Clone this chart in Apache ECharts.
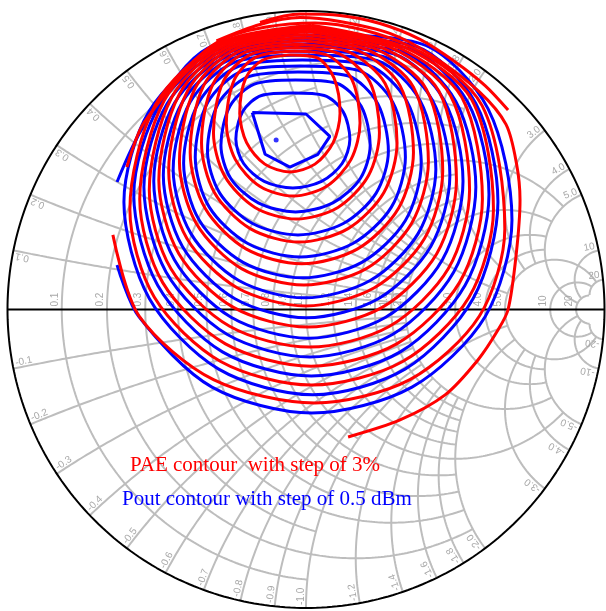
<!DOCTYPE html>
<html><head><meta charset="utf-8">
<script src="https://cdn.jsdelivr.net/npm/echarts@6/dist/echarts.min.js"></script>
<style>html,body{margin:0;padding:0;background:#fff}#chart{width:606px;height:611px}</style>
</head><body><div id="chart"></div>
<script>
// Smith chart grid: resistance circles, each drawn for |x| <= limit
const rFine = [0.1, 0.3, 0.5, 0.7, 0.9];               // |x| <= 1
const rMid = [0.2, 0.4, 0.6, 0.8, 1.2, 1.4, 1.6, 1.8]; // |x| <= 2
const rCoarse = [1.0, 2.0, 3.0, 4.0];                 // |x| <= 5
const rOuter = [5.0, 10, 20];                         // |x| <= 20
// reactance arcs, each drawn for r <= limit
const xFine = [0.1, 0.2, 0.3, 0.4, 0.5, 0.6, 0.7, 0.8, 0.9]; // r <= 2
const xMid = [1.2, 1.4, 1.6, 1.8];                    // r <= 2
const xCoarse = [1.0, 2.0, 3.0, 4.0];                 // r <= 5
const xOuter = [5.0, 10, 20];                         // r <= 20
// tick labels
const rLabels = ['0.1','0.2','0.3','0.4','0.5','0.6','0.7','0.8','0.9','1.0','1.2','1.4','1.6','1.8','2.0','3.0','4.0','5.0','10','20'];
const xLabels = ['0.1','0.2','0.3','0.4','0.5','0.6','0.7','0.8','0.9','1.0','1.2','1.4','1.6','1.8','2.0','3.0','4.0','5.0','10','20'];

// load-pull contours as reflection coefficient points [Re(G), Im(G)]
const poutOptimum = [-0.10, 0.568];
const poutContours = [
  [[-.18,.66],[0,.655],[.08,.58],[.04,.52],[-.054,.477],[-.137,.52],[-.18,.66]],
  [[-.044,.725],[.061,.717],[.124,.663],[.147,.57],[.121,.489],[.052,.429],[-.044,.407],[-.14,.429],[-.209,.489],[-.235,.57],[-.212,.663],[-.149,.717],[-.044,.725]],
  [[-.035,.769],[.103,.758],[.185,.681],[.215,.55],[.182,.439],[.09,.357],[-.035,.327],[-.16,.357],[-.252,.439],[-.285,.55],[-.255,.681],[-.173,.755],[-.035,.769]],
  [[-.027,.796],[.14,.783],[.24,.69],[.276,.53],[.235,.39],[.125,.288],[-.027,.25],[-.179,.288],[-.289,.39],[-.33,.53],[-.294,.69],[-.192,.78],[-.027,.796]],
  [[-.019,.816],[.175,.801],[.291,.694],[.333,.51],[.286,.343],[.157,.221],[-.019,.176],[-.195,.221],[-.324,.343],[-.371,.51],[-.329,.694],[-.21,.80],[-.019,.816]],
  [[-.012,.836],[.207,.819],[.338,.698],[.386,.49],[.333,.298],[.187,.158],[-.012,.106],[-.211,.158],[-.357,.298],[-.41,.49],[-.36,.693],[-.226,.815],[-.012,.836]],
  [[-.005,.853],[.237,.834],[.382,.70],[.435,.47],[.376,.255],[.215,.097],[-.005,.039],[-.225,.097],[-.386,.255],[-.445,.47],[-.388,.695],[-.24,.828],[-.005,.853]],
  [[.002,.866],[.266,.845],[.424,.70],[.482,.45],[.418,.211],[.242,.036],[.002,-.028],[-.238,.036],[-.414,.211],[-.478,.45],[-.414,.695],[-.253,.838],[.002,.866]],
  [[.008,.879],[.293,.857],[.464,.699],[.526,.43],[.457,.167],[.267,-.026],[.008,-.096],[-.251,-.026],[-.441,.167],[-.51,.43],[-.44,.693],[-.265,.847],[.008,.879]],
  [[.013,.889],[.319,.865],[.502,.697],[.569,.41],[.495,.126],[.291,-.083],[.013,-.159],[-.265,-.083],[-.469,.126],[-.543,.41],[-.465,.69],[-.277,.855],[.013,.889]],
  [[.018,.90],[.345,.874],[.542,.694],[.613,.385],[.533,.081],[.316,-.142],[.018,-.223],[-.28,-.142],[-.497,.081],[-.577,.385],[-.49,.685],[-.289,.862],[.018,.90]],
  [[.023,.91],[.364,.883],[.569,.69],[.643,.36],[.56,.037],[.333,-.199],[.023,-.286],[-.294,-.199],[-.525,.037],[-.61,.36],[-.525,.665],[-.302,.868],[.023,.91]],
  [[-.633,.427],[-.54,.62],[-.33,.875],[.02,.92],[.389,.889],[.61,.672],[.69,.30],[.60,-.024],[.355,-.26],[.02,-.347],[-.315,-.26],[-.56,-.024],[-.633,.149]]
];
const paeContours = [
  [[-.054,.853],[.038,.843],[.094,.775],[.114,.657],[.091,.559],[.03,.487],[-.054,.461],[-.138,.487],[-.199,.559],[-.222,.657],[-.202,.775],[-.146,.835],[-.054,.853]],
  [[-.043,.866],[.075,.85],[.154,.77],[.181,.625],[.151,.503],[.069,.413],[-.043,.38],[-.155,.413],[-.237,.503],[-.267,.625],[-.24,.77],[-.166,.846],[-.043,.866]],
  [[-.032,.878],[.11,.857],[.213,.764],[.246,.592],[.209,.448],[.107,.342],[-.032,.303],[-.171,.342],[-.273,.448],[-.31,.592],[-.277,.764],[-.185,.855],[-.032,.878]],
  [[-.023,.889],[.145,.862],[.265,.757],[.305,.558],[.261,.392],[.141,.271],[-.023,.226],[-.187,.271],[-.307,.392],[-.35,.558],[-.311,.757],[-.202,.862],[-.023,.889]],
  [[-.014,.90],[.178,.866],[.315,.75],[.36,.526],[.31,.339],[.173,.203],[-.014,.153],[-.201,.203],[-.338,.339],[-.388,.526],[-.343,.75],[-.218,.868],[-.014,.90]],
  [[-.007,.911],[.208,.869],[.36,.745],[.41,.495],[.354,.289],[.202,.137],[-.007,.082],[-.216,.137],[-.368,.289],[-.424,.495],[-.372,.74],[-.232,.874],[-.007,.911]],
  [[-.001,.921],[.237,.871],[.403,.738],[.458,.464],[.397,.238],[.229,.073],[-.001,.012],[-.231,.073],[-.399,.238],[-.46,.464],[-.398,.73],[-.245,.879],[-.001,.921]],
  [[.006,.931],[.264,.873],[.445,.732],[.504,.433],[.438,.187],[.255,.007],[.006,-.059],[-.243,.007],[-.426,.187],[-.493,.433],[-.425,.72],[-.257,.883],[.006,.931]],
  [[.012,.938],[.29,.875],[.484,.717],[.548,.40],[.477,.137],[.28,-.056],[.012,-.126],[-.256,-.056],[-.453,.137],[-.525,.40],[-.45,.71],[-.268,.887],[.012,.938]],
  [[.017,.945],[.313,.876],[.522,.711],[.591,.37],[.514,.09],[.304,-.115],[.017,-.19],[-.27,-.115],[-.48,.09],[-.557,.37],[-.475,.70],[-.278,.89],[.017,.945]],
  [[.019,.952],[.333,.877],[.555,.703],[.628,.335],[.546,.041],[.324,-.174],[.019,-.253],[-.286,-.174],[-.508,.041],[-.59,.335],[-.505,.685],[-.287,.893],[.019,.952]],
  [[-.60,.477],[-.54,.63],[-.296,.896],[.03,.96],[.355,.878],[.59,.683],[.666,.27],[.581,-.022],[.348,-.235],[.03,-.313],[-.31,-.235],[-.559,-.022],[-.647,.25]],
  [[.141,-.427],[.315,-.37],[.466,-.286],[.576,-.169],[.643,-.069],[.677,0],[.704,.183],[.717,.367],[.705,.49],[.67,.62],[.58,.73],[.415,.855],[.281,.925],[.114,.965],[-.02,.978],[-.154,.955],[-.30,.90]],
  [[-.154,.962],[-.02,.99],[.114,.985],[.248,.958],[.382,.905],[.499,.83],[.6,.75],[.677,.668]]
];

function gamma(r, x) {
  const d = (r + 1) * (r + 1) + x * x;
  return [(r * r + x * x - 1) / d, 2 * x / d];
}
function rCircle(r, lim) {
  const pts = [];
  for (let i = -200; i <= 200; i++) {
    const t = i / 200;
    pts.push(gamma(r, lim * Math.sign(t) * t * t));
  }
  return pts;
}
function xArc(x, lim) {
  const pts = [];
  for (let i = 0; i <= 200; i++) {
    const s = i / 200;
    pts.push(gamma(lim * s * s, x));
  }
  return pts;
}

const GRID = '#bdbdbd';
const series = [];
function addLine(data, color, width, z, smooth) {
  series.push({ type: 'line', data: data, showSymbol: false, silent: true, clip: false, smooth: smooth || false,
    lineStyle: { color: color, width: width }, z: z, animation: false });
}
[[rFine, 1], [rMid, 2], [rCoarse, 5], [rOuter, 20]].forEach(([arr, lim]) => arr.forEach(r => addLine(rCircle(r, lim), GRID, 2, 1)));
[[xFine, 2], [xMid, 2], [xCoarse, 5], [xOuter, 20]].forEach(([arr, lim]) => arr.forEach(x => {
  addLine(xArc(x, lim), GRID, 2, 1);
  addLine(xArc(-x, lim), GRID, 2, 1);
}));
// unit circle and real axis
const unit = [];
for (let i = 0; i <= 360; i++) unit.push([Math.cos(i * Math.PI / 180), Math.sin(i * Math.PI / 180)]);
addLine(unit, '#000', 2, 3);
addLine([[-1, 0], [1, 0]], '#000', 2, 3);
// contours: Pout (blue) then PAE (red)
poutContours.forEach((c, i) => addLine(c, '#0000ff', 3, 5, i === 0 ? false : 0.3));
paeContours.forEach(c => addLine(c, '#ff0000', 3, 6, 0.3));
series.push({ type: 'scatter', data: [poutOptimum], symbolSize: 5, silent: true, z: 7,
  itemStyle: { color: '#0000ff' }, animation: false });

const chart = echarts.init(document.getElementById('chart'));
chart.setOption({
  backgroundColor: '#fff',
  animation: false,
  grid: { left: 7.5, top: 11, width: 597, height: 597 },
  xAxis: { type: 'value', min: -1, max: 1, show: false },
  yAxis: { type: 'value', min: -1, max: 1, show: false },
  series: series
});

// labels placed through the chart's own coordinate conversion
const graphics = [];
const LBL = { fill: '#a8a8a8', fontSize: 10, fontFamily: 'Liberation Sans, Arial' };
const c0 = chart.convertToPixel({ gridIndex: 0 }, [0, 0]);
const c1 = chart.convertToPixel({ gridIndex: 0 }, [1, 0]);
const R = c1[0] - c0[0];
rLabels.forEach(s => {
  const r = parseFloat(s);
  const p = chart.convertToPixel({ gridIndex: 0 }, [(r - 1) / (r + 1), 0]);
  graphics.push({ type: 'text', x: p[0] - 2, y: p[1] - 3, rotation: Math.PI / 2, z: 2,
    style: Object.assign({ text: s, align: 'left', verticalAlign: 'bottom' }, LBL) });
});
xLabels.forEach(s => {
  const x = parseFloat(s);
  [1, -1].forEach(sg => {
    const g = gamma(0, sg * x);
    const th = Math.atan2(g[1], g[0]);
    const px = c0[0] + (R - 3) * Math.cos(th);
    const py = c0[1] - (R - 3) * Math.sin(th);
    graphics.push({ type: 'text', x: px, y: py, rotation: sg > 0 ? th : th + Math.PI, z: 2,
      style: Object.assign({ text: sg > 0 ? s : '-' + s, align: sg > 0 ? 'right' : 'left', verticalAlign: 'bottom' }, LBL) });
  });
});
graphics.push({ type: 'text', x: 130, y: 476, z: 20,
  style: { text: 'PAE contour  with step of 3%', fill: '#ff0000', fontSize: 21, fontFamily: 'Liberation Serif, Times New Roman', verticalAlign: 'bottom' } });
graphics.push({ type: 'text', x: 122, y: 510, z: 20,
  style: { text: 'Pout contour with step of 0.5 dBm', fill: '#0000ff', fontSize: 21, fontFamily: 'Liberation Serif, Times New Roman', verticalAlign: 'bottom' } });
chart.setOption({ graphic: graphics });
</script></body></html>
